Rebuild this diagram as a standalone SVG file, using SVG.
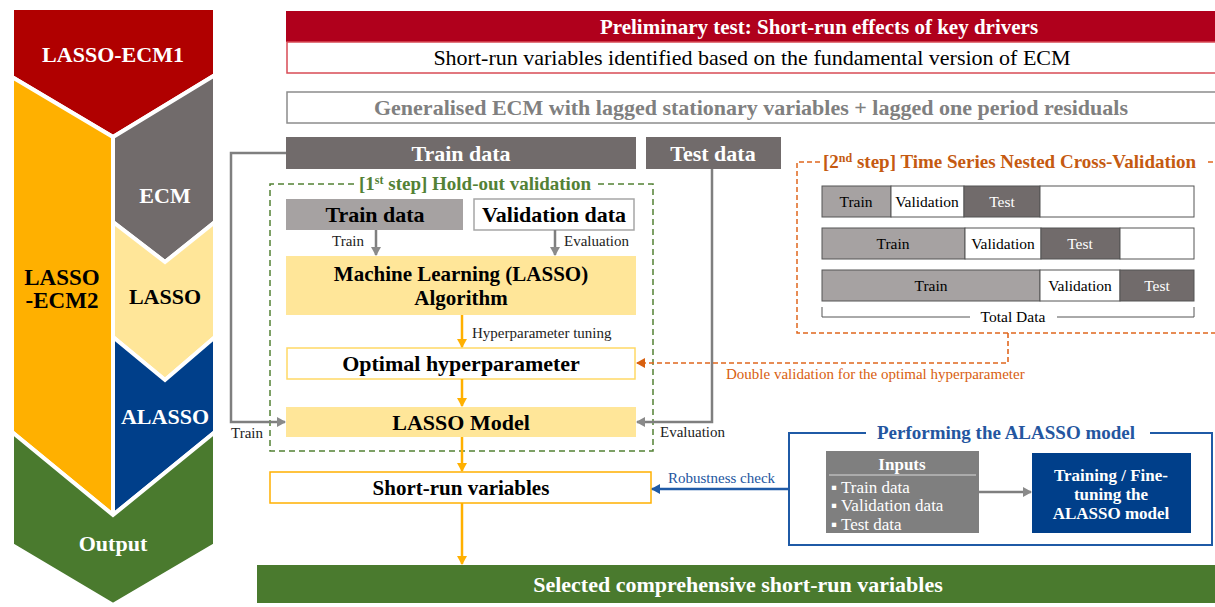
<svg xmlns="http://www.w3.org/2000/svg" width="1215" height="607" viewBox="0 0 1215 607" font-family="Liberation Serif, serif">
<style>
text{font-family:'Liberation Serif',serif}
.b{font-weight:bold}
.c{text-anchor:middle}
.e{text-anchor:end}
.w{fill:#fff}
.k{fill:#000}
.chev{stroke:#fff;stroke-width:4;stroke-linejoin:miter}
.gl{stroke:#7f7f7f;stroke-width:2.5;fill:none}
.ol{stroke:#ffb000;stroke-width:2.5;fill:none}
.od{stroke:#e0671e;stroke-width:1.6;fill:none;stroke-dasharray:5 3}
.bl{stroke:#1f5aa6;stroke-width:2.5;fill:none}
.seg{stroke:#555;stroke-width:1}
.sm{font-size:15px}
.big{font-size:22px}
</style>
<defs>
<marker id="ag" markerWidth="10" markerHeight="10" refX="8" refY="5" orient="auto" markerUnits="userSpaceOnUse"><path d="M0,0 L9,5 L0,10 z" fill="#8a8a8a"/></marker>
<marker id="ao" markerWidth="10" markerHeight="10" refX="8" refY="5" orient="auto" markerUnits="userSpaceOnUse"><path d="M0,0 L9,5 L0,10 z" fill="#ffb000"/></marker>
<marker id="ad" markerWidth="10" markerHeight="10" refX="8" refY="5" orient="auto" markerUnits="userSpaceOnUse"><path d="M0,0 L9,5 L0,10 z" fill="#d8600f"/></marker>
<marker id="ab" markerWidth="10" markerHeight="10" refX="8" refY="5" orient="auto" markerUnits="userSpaceOnUse"><path d="M0,0 L9,5 L0,10 z" fill="#1f5aa6"/></marker>
</defs>
<rect width="1215" height="607" fill="#fff"/>

<g id="lasso-ecm1"><polygon class="chev" fill="#b00000" points="12,8 215,8 215,75 113,137 12,77"/><text class="b c w big" x="113" y="62">LASSO-ECM1</text></g>
<g id="lasso-ecm2"><polygon class="chev" fill="#ffb000" points="12,77 113,137 113,515 12,432"/><text class="b c k" x="62" y="285" font-size="23">LASSO</text><text class="b c k" x="62" y="308" font-size="23">-ECM2</text></g>
<g id="ecm"><polygon class="chev" fill="#716b6b" points="113,137 215,75 215,222 165,262 113,222"/><text class="b c w big" x="165" y="203">ECM</text></g>
<g id="lasso"><polygon class="chev" fill="#ffe699" points="113,222 165,262 215,222 215,337 165,380 113,337"/><text class="b c k big" x="165" y="304">LASSO</text></g>
<g id="alasso"><polygon class="chev" fill="#003f8a" points="113,337 165,380 215,337 215,432 113,515"/><text class="b c w big" x="165" y="424">ALASSO</text></g>
<g id="output"><polygon class="chev" fill="#4a7a2e" points="12,432 113,515 215,432 215,545 113,605 12,545"/><text class="b c w big" x="113" y="551">Output</text></g>

<g id="prelim"><rect x="286" y="11" width="935" height="31" fill="#b0001c"/><text class="b c w" x="819" y="34" font-size="21">Preliminary test: Short-run effects of key drivers</text></g>
<g id="shortrun-ecm"><rect x="287" y="42" width="935" height="31" fill="#fff" stroke="#d84b55" stroke-width="1.5"/><text class="c k big" x="752" y="65">Short-run variables identified based on the fundamental version of ECM</text></g>
<g id="generalised"><rect x="287" y="92" width="935" height="31" fill="#fff" stroke="#8c8c8c" stroke-width="1.5"/><text class="b c big" x="751" y="115" fill="#808080">Generalised ECM with lagged stationary variables + lagged one period residuals</text></g>

<g id="train-data"><rect x="286" y="137" width="350" height="32" fill="#716b6b"/><text class="b c w big" x="461" y="161">Train data</text></g>
<g id="test-data"><rect x="646" y="137" width="135" height="32" fill="#716b6b"/><text class="b c w big" x="713" y="161">Test data</text></g>

<g id="holdout">
<path d="M354,184 L270,184 L270,451 L653,451 L653,184 L596,184" fill="none" stroke="#538135" stroke-width="1.5" stroke-dasharray="6 4"/>
<text class="b c" x="475" y="190" font-size="19" fill="#538135">[1<tspan font-size="12" dy="-6">st</tspan><tspan dy="6"> step] Hold-out validation</tspan></text>
</g>
<g id="inner-train"><rect x="286" y="199" width="177" height="31" fill="#a6a2a2"/><text class="b c k big" x="375" y="222">Train data</text></g>
<g id="validation-data"><rect x="474" y="199" width="160" height="31" fill="#fff" stroke="#a6a6a6" stroke-width="1.5"/><text class="b c k big" x="554" y="222">Validation data</text></g>
<g id="ml-algorithm"><rect x="286" y="256" width="350" height="59" fill="#ffe699"/><text class="b c k" font-size="21"><tspan x="461" y="281">Machine Learning (LASSO)</tspan><tspan x="461" y="305">Algorithm</tspan></text></g>
<g id="optimal"><rect x="287" y="348" width="348" height="31" fill="#fff" stroke="#ffd966" stroke-width="1.5"/><text class="b c k big" x="461" y="371">Optimal hyperparameter</text></g>
<g id="lasso-model"><rect x="286" y="407" width="350" height="30" fill="#ffe699"/><text class="b c k big" x="461" y="430">LASSO Model</text></g>
<g id="short-run"><rect x="270" y="472" width="381" height="31" fill="#fff" stroke="#ffb000" stroke-width="1.5"/><text class="b c k" x="461" y="495" font-size="21">Short-run variables</text></g>
<g id="selected"><rect x="257" y="565" width="960" height="38" fill="#4a7a2e"/><text class="b c w big" x="738" y="592">Selected comprehensive short-run variables</text></g>

<g id="nested-cv">
<path d="M820,162 L797,162 L797,333 L1220,333 M1208,162 L1220,162" fill="none" stroke="#e0671e" stroke-width="1.5" stroke-dasharray="5 3"/>
<text class="b" x="823" y="168" font-size="19" fill="#c55a11">[2<tspan font-size="12" dy="-6">nd</tspan><tspan dy="6"> step] Time Series Nested Cross-Validation</tspan></text>
<g class="seg">
<rect x="822" y="186" width="69" height="31" fill="#a6a2a2"/><rect x="891" y="186" width="73" height="31" fill="#fff"/><rect x="964" y="186" width="76" height="31" fill="#716b6b"/><rect x="1040" y="186" width="154" height="31" fill="#fff"/>
<rect x="822" y="228" width="143" height="31" fill="#a6a2a2"/><rect x="965" y="228" width="76" height="31" fill="#fff"/><rect x="1041" y="228" width="79" height="31" fill="#716b6b"/><rect x="1120" y="228" width="74" height="31" fill="#fff"/>
<rect x="822" y="270" width="218" height="31" fill="#a6a2a2"/><rect x="1040" y="270" width="80" height="31" fill="#fff"/><rect x="1120" y="270" width="74" height="31" fill="#716b6b"/>
</g>
<g font-size="15.5" class="c">
<text x="856" y="207" class="k">Train</text><text x="927" y="207" class="k">Validation</text><text x="1002" y="207" class="w">Test</text>
<text x="893" y="249" class="k">Train</text><text x="1003" y="249" class="k">Validation</text><text x="1080" y="249" class="w">Test</text>
<text x="931" y="291" class="k">Train</text><text x="1080" y="291" class="k">Validation</text><text x="1157" y="291" class="w">Test</text>
</g>
<path d="M822,307 L822,317 L970,317 M1057,317 L1194,317 L1194,307" fill="none" stroke="#555" stroke-width="1"/>
<text class="c k" x="1013" y="322" font-size="15.5">Total Data</text>
</g>

<g id="performing-alasso">
<path d="M866,433 L789,433 L789,545 L1212,545 L1212,433 L1150,433" fill="none" stroke="#1f5aa6" stroke-width="2"/>
<text class="b c" x="1006" y="439" font-size="19" fill="#2456a0">Performing the ALASSO model</text>
</g>
<g id="inputs"><rect x="826" y="451" width="153" height="82" fill="#7f7f7f"/><line x1="829" y1="475" x2="976" y2="475" stroke="#d9d9d9" stroke-width="1"/><text class="b c w" x="902" y="470" font-size="17">Inputs</text>
<g class="w" font-size="17"><text x="831" y="493">▪ Train data</text><text x="831" y="511">▪ Validation data</text><text x="831" y="530">▪ Test data</text></g></g>
<g id="training-alasso"><rect x="1032" y="453" width="159" height="80" fill="#003f8a"/><text class="b c w" font-size="17"><tspan x="1111" y="481">Training  / Fine-</tspan><tspan x="1111" y="500">tuning the</tspan><tspan x="1111" y="519">ALASSO model</tspan></text></g>

<g id="connectors">
<line class="gl" x1="376" y1="230" x2="376" y2="255" marker-end="url(#ag)"/>
<line class="gl" x1="555" y1="230" x2="555" y2="255" marker-end="url(#ag)"/>
<line class="ol" x1="462" y1="315" x2="462" y2="347" marker-end="url(#ao)"/>
<line class="ol" x1="462" y1="379" x2="462" y2="406" marker-end="url(#ao)"/>
<line class="ol" x1="462" y1="437" x2="462" y2="471" marker-end="url(#ao)"/>
<line class="ol" x1="462" y1="503" x2="462" y2="564" marker-end="url(#ao)"/>
<path class="gl" d="M286,153 L231,153 L231,422 L285,422" marker-end="url(#ag)"/>
<path class="gl" d="M712,169 L712,422 L637,422" marker-end="url(#ag)"/>
<path class="od" d="M1008,333 L1008,363 L637,363" marker-end="url(#ad)"/>
<line class="bl" x1="789" y1="489" x2="652" y2="489" marker-end="url(#ab)"/>
<line class="gl" x1="979" y1="492" x2="1031" y2="492" marker-end="url(#ag)"/>
<text class="sm e" x="364" y="246" fill="#222" font-size="14">Train</text>
<text class="sm" x="564" y="246" fill="#222">Evaluation</text>
<text class="sm" x="472" y="338" fill="#222">Hyperparameter tuning</text>
<text class="sm" x="231" y="438" fill="#222" font-size="14">Train</text>
<text class="sm" x="660" y="437" fill="#222">Evaluation</text>
<text class="sm" x="726" y="379" fill="#d8600f">Double validation for the optimal hyperparameter</text>
<text class="sm" x="668" y="483" fill="#2456a0">Robustness check</text>
</g>
</svg>
